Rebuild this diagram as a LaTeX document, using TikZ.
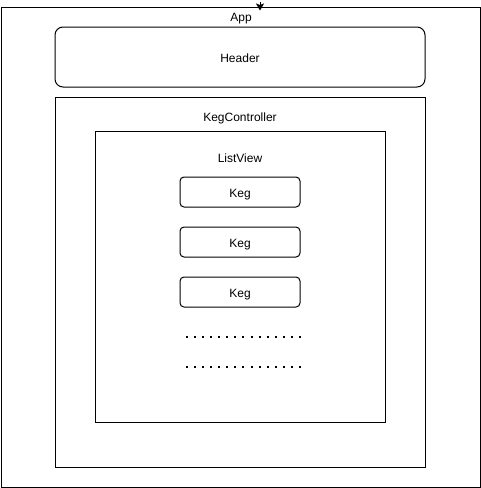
\documentclass[tikz,border=0pt]{standalone}
\usepackage{fontspec}
\setmainfont{Liberation Sans}
\usetikzlibrary{arrows.meta}

\begin{document}
\begin{tikzpicture}[x=1pt,y=-1pt,
  box/.style={draw,line width=1pt,rectangle,inner sep=0pt},
  roundbox/.style={box,rounded corners=8pt},
  lbl/.style={font=\fontsize{12}{14}\selectfont},
  dotrow/.style={line width=2pt,dash pattern=on 2pt off 6.07pt}]
\useasboundingbox (0,0) rectangle (481,488);
% App
\node[box,minimum width=479pt,minimum height=480pt] (app) at (240.5,247) {};
\node[lbl] (applbl) at (241,18.5) {App};
\coordinate (appin) at (260,2);
\draw[-{Stealth[length=7pt,width=8pt,inset=1.5pt]},line width=1pt] (appin) -- (260,10.5);
% Header
\node[roundbox,minimum width=370pt,minimum height=60pt] (header) at (240,57) {};
\node[lbl] at (240,58.5) {Header};
% KegController
\node[box,minimum width=370pt,minimum height=370pt] (ctrl) at (240,282) {};
\node[lbl] (ctrllbl) at (240,118.5) {KegController};
% ListView
\node[box,minimum width=290pt,minimum height=291pt] (list) at (240,276.5) {};
\node[lbl] (listlbl) at (240,158.5) {ListView};
% Keg
\foreach \i/\y in {1/192,2/242,3/292}
  \node[roundbox,rounded corners=4pt,minimum width=120pt,minimum height=30pt,lbl,text depth=0pt,text height=10.5pt] (keg\i) at (240,\y) {Keg};
% dots
\draw[dotrow] (186,337) -- (301,337);
\draw[dotrow] (186,367) -- (301,367);
\end{tikzpicture}
\end{document}
